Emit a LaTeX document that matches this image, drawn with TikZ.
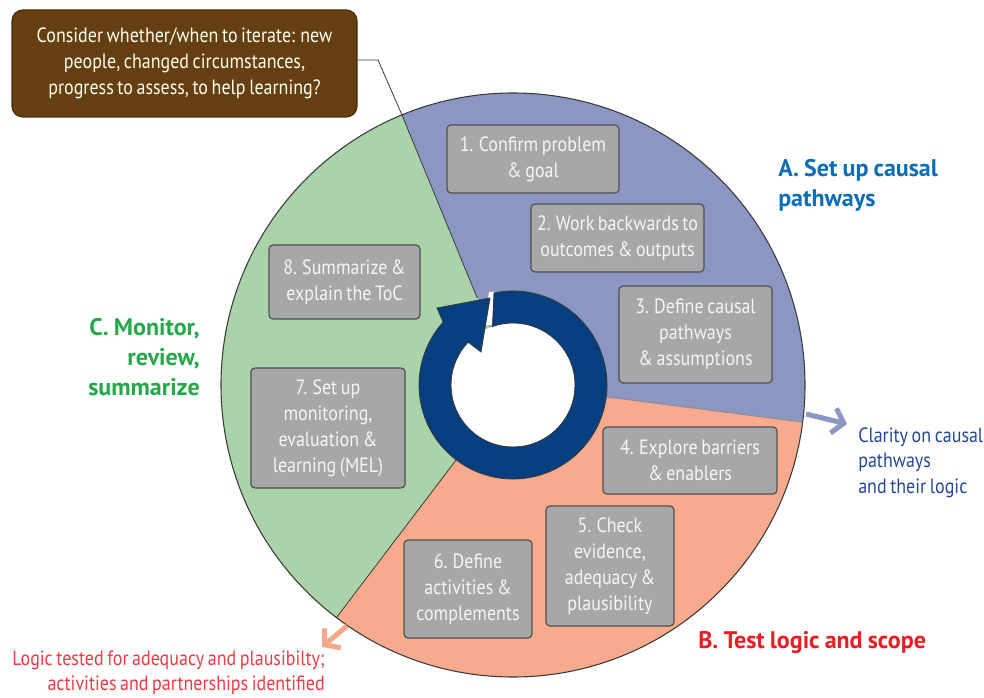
\documentclass[tikz,border=0pt]{standalone}
\usepackage{fontspec}
\setmainfont{PT Sans}[FakeStretch=0.87, WordSpace=0.75]
\newfontfamily\lblfamily{PT Sans}[WordSpace=0.85]
\usetikzlibrary{arrows.meta,calc}
\definecolor{wA}{HTML}{8B97C2}
\definecolor{wB}{HTML}{F7AA8D}
\definecolor{wC}{HTML}{ABD3AA}
\definecolor{boxfill}{HTML}{A6A7A9}
\definecolor{boxdraw}{HTML}{505050}
\definecolor{navy}{HTML}{053F80}
\definecolor{brownbox}{HTML}{653F12}
\definecolor{Atext}{HTML}{0B6DB7}
\definecolor{Btext}{HTML}{EC1C24}
\definecolor{Ctext}{HTML}{25A74A}
\definecolor{claritytext}{HTML}{24479A}
\definecolor{logictext}{HTML}{EE3B45}
\definecolor{arrA}{HTML}{8C98C3}
\definecolor{arrB}{HTML}{F5A98B}
\definecolor{outl}{HTML}{3A3A3A}
\newcommand\bxfont{\fontsize{15.5}{19.5}\selectfont}
\newcommand\lblfont{\lblfamily\fontsize{18}{22.5}\selectfont\bfseries}
\newcommand\notefont{\fontsize{15.5}{19}\selectfont}
\begin{document}
\begin{tikzpicture}[x=0.75pt,y=-0.75pt,
  stepbox/.style={draw=boxdraw, fill=boxfill, line width=0.9pt, rounded corners=3pt,
    text=white!96!black, align=center, inner sep=0pt, font=\bxfont},
  bsize/.style 2 args={minimum width=#1*0.75pt, minimum height=#2*0.75pt},
  wedgeline/.style={draw=outl, line width=0.6pt},
  outarrow/.style={line width=3.8pt, -{Straight Barb[length=8pt,width=19pt]}},
  ringstyle/.style={fill=navy, draw=outl, line width=0.6pt, line join=miter}]
\useasboundingbox (0,0) rectangle (984,698);

\coordinate (c) at (513,385);
% wedges
\begin{scope}[shift={(513,385)}]
  \fill[wA] (0,0) -- (-112.35:292) arc[start angle=-112.35, end angle=7.3, radius=292] -- cycle;
  \fill[wB] (0,0) -- (7.3:292) arc[start angle=7.3, end angle=127.2, radius=292] -- cycle;
  \fill[wC] (0,0) -- (127.2:292) arc[start angle=127.2, end angle=247.65, radius=292] -- cycle;
  \draw[outl, line width=0.8pt] (0,0) circle[radius=292];
  \coordinate (ac) at (-112.35:292);
  \coordinate (ab) at (7.3:292);
  \coordinate (bc) at (127.2:292);
  \coordinate (acin) at (-112.35:94);
  \coordinate (abin) at (7.3:94);
  \coordinate (bcin) at (127.2:94);
\end{scope}
\draw[wedgeline] (acin) -- (ac);
\draw[wedgeline, draw=outl!60] (abin) -- (ab);
\draw[wedgeline] (bcin) -- (bc);

% donut arrow
\begin{scope}[shift={(513,385)}]
  \fill[white] (0,0) circle[radius=62];
  \fill[white] (-18,-93) -- (-21,-60) -- (-28,-60) -- (-24,-93) -- cycle;
  \path[ringstyle] (-101.7:94) arc[start angle=-101.7, end angle=222, radius=94]
     -- (-76,-77) -- (-23,-87) -- (-32,-33) -- (223.7:62)
     arc[start angle=223.7, end angle=-109.3, radius=62] -- cycle;
\end{scope}

% step boxes
\node[stepbox, bsize={172}{68}] (s1) at (533,159) {1. Confirm problem\\\& goal};
\node[stepbox, bsize={173}{68}] (s2) at (617.5,238) {2. Work backwards to\\outcomes \& outputs};
\node[stepbox, bsize={153}{97}] (s3) at (695.5,334.5) {3. Define causal\\pathways\\\& assumptions};
\node[stepbox, bsize={174}{67}] (s4) at (690,460.5) {4. Explore barriers\\\& enablers};
\node[stepbox, bsize={128}{120}] (s5) at (610,566) {5. Check\\evidence,\\adequacy \&\\plausibility};
\node[stepbox, bsize={128}{98}] (s6) at (468,589) {6. Define\\activities \&\\complements};
\node[stepbox, bsize={154}{120}] (s7) at (328,428) {7. Set up\\monitoring,\\evaluation \&\\learning (MEL)};
\node[stepbox, bsize={151}{74}] (s8) at (344.5,282) {8. Summarize \&\\explain the ToC};

% brown note
\node[draw=brownbox!70!black, fill=brownbox, line width=0.8pt, rounded corners=8pt,
  minimum width=345*0.75pt, minimum height=107*0.75pt, inner sep=0pt, align=center,
  text=white!93!yellow, font=\bxfont] (note) at (184.5,63.5)
  {Consider whether/when to iterate: new\\people, changed circumstances,\\progress to assess, to help learning?};
\coordinate (bend) at (378,60);
\draw[outl, line width=0.6pt] ([yshift=2.6pt]note.east) -- (bend) -- (ac);

% section labels
\node[anchor=west, align=left, inner sep=0pt, text=Atext, font=\lblfont] (la) at (778,185)
  {A. Set up causal\\pathways};
\node[anchor=west, inner sep=0pt, text=Btext, font=\lblfont] (lb) at (698,643)
  {B. Test logic and scope};
\node[anchor=east, align=right, inner sep=0pt, text=Ctext, font=\lblfont] (lc) at (200,357)
  {C. Monitor,\\review,\\summarize};

% outputs
\coordinate (arAs) at (806,414);
\coordinate (arAe) at (847,424);
\draw[arrA, outarrow] (arAs) -- (arAe);
\node[anchor=west, align=left, inner sep=0pt, text=claritytext, font=\notefont] (clar) at (858,462.5)
  {Clarity on causal\\pathways\\and their logic};
\coordinate (arBs) at (347,626);
\coordinate (arBe) at (322,647);
\draw[arrB, outarrow] (arBs) -- (arBe);
\node[anchor=east, align=right, inner sep=0pt, text=logictext, font=\notefont] (logic) at (325,672.5)
  {Logic tested for adequacy and plausibilty;\\activities and partnerships identified};
\end{tikzpicture}
\end{document}
